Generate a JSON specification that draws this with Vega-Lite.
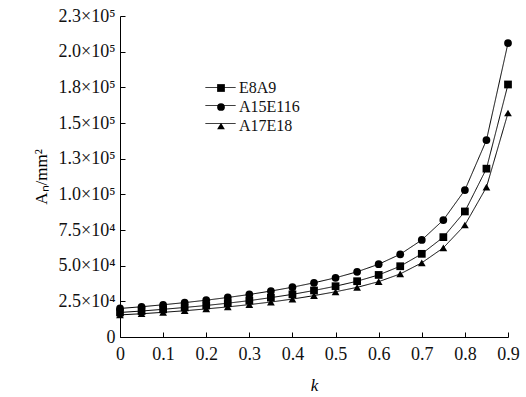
{
  "$schema": "https://vega.github.io/schema/vega-lite/v6.json",
  "width": 388,
  "height": 321,
  "autosize": "none",
  "padding": {"left": 120, "top": 16, "right": 18, "bottom": 60},
  "background": "white",
  "config": {
    "view": {"stroke": null},
    "font": "Liberation Serif",
    "axis": {"domainColor": "black", "tickColor": "black", "labelColor": "#111", "titleColor": "black", "grid": false, "labelFont": "Liberation Serif", "titleFont": "Liberation Serif", "labelFontSize": 18, "titleFontSize": 17, "titleFontWeight": "normal", "domainWidth": 1, "tickWidth": 1}
  },
  "data": {"values": [
    {"k": 0, "s": "E8A9", "A": 17200}, {"k": 0, "s": "A15E116", "A": 20000}, {"k": 0, "s": "A17E18", "A": 15500},
    {"k": 0.05, "s": "E8A9", "A": 18200}, {"k": 0.05, "s": "A15E116", "A": 21200}, {"k": 0.05, "s": "A17E18", "A": 16300},
    {"k": 0.1, "s": "E8A9", "A": 19400}, {"k": 0.1, "s": "A15E116", "A": 22600}, {"k": 0.1, "s": "A17E18", "A": 17300},
    {"k": 0.15, "s": "E8A9", "A": 20700}, {"k": 0.15, "s": "A15E116", "A": 24100}, {"k": 0.15, "s": "A17E18", "A": 18400},
    {"k": 0.2, "s": "E8A9", "A": 22100}, {"k": 0.2, "s": "A15E116", "A": 25800}, {"k": 0.2, "s": "A17E18", "A": 19700},
    {"k": 0.25, "s": "E8A9", "A": 23700}, {"k": 0.25, "s": "A15E116", "A": 27700}, {"k": 0.25, "s": "A17E18", "A": 21100},
    {"k": 0.3, "s": "E8A9", "A": 25500}, {"k": 0.3, "s": "A15E116", "A": 29800}, {"k": 0.3, "s": "A17E18", "A": 22700},
    {"k": 0.35, "s": "E8A9", "A": 27600}, {"k": 0.35, "s": "A15E116", "A": 32200}, {"k": 0.35, "s": "A17E18", "A": 24500},
    {"k": 0.4, "s": "E8A9", "A": 29900}, {"k": 0.4, "s": "A15E116", "A": 34900}, {"k": 0.4, "s": "A17E18", "A": 26600},
    {"k": 0.45, "s": "E8A9", "A": 32600}, {"k": 0.45, "s": "A15E116", "A": 38000}, {"k": 0.45, "s": "A17E18", "A": 29000},
    {"k": 0.5, "s": "E8A9", "A": 35600}, {"k": 0.5, "s": "A15E116", "A": 41500}, {"k": 0.5, "s": "A17E18", "A": 31700},
    {"k": 0.55, "s": "E8A9", "A": 39100}, {"k": 0.55, "s": "A15E116", "A": 45700}, {"k": 0.55, "s": "A17E18", "A": 34800},
    {"k": 0.6, "s": "E8A9", "A": 43500}, {"k": 0.6, "s": "A15E116", "A": 51000}, {"k": 0.6, "s": "A17E18", "A": 38800},
    {"k": 0.65, "s": "E8A9", "A": 49600}, {"k": 0.65, "s": "A15E116", "A": 58000}, {"k": 0.65, "s": "A17E18", "A": 44200},
    {"k": 0.7, "s": "E8A9", "A": 58300}, {"k": 0.7, "s": "A15E116", "A": 68000}, {"k": 0.7, "s": "A17E18", "A": 52000},
    {"k": 0.75, "s": "E8A9", "A": 70000}, {"k": 0.75, "s": "A15E116", "A": 82000}, {"k": 0.75, "s": "A17E18", "A": 62500},
    {"k": 0.8, "s": "E8A9", "A": 88000}, {"k": 0.8, "s": "A15E116", "A": 103000}, {"k": 0.8, "s": "A17E18", "A": 78500},
    {"k": 0.85, "s": "E8A9", "A": 118000}, {"k": 0.85, "s": "A15E116", "A": 138000}, {"k": 0.85, "s": "A17E18", "A": 105000},
    {"k": 0.9, "s": "E8A9", "A": 177000}, {"k": 0.9, "s": "A15E116", "A": 206000}, {"k": 0.9, "s": "A17E18", "A": 157000}
  ]},
  "encoding": {
    "x": {"field": "k", "type": "quantitative", "scale": {"domain": [0, 0.9], "nice": false, "zero": false},
      "axis": {"values": [0, 0.1, 0.2, 0.3, 0.4, 0.5, 0.6, 0.7, 0.8, 0.9], "format": ".1~f", "tickSize": -5, "labelPadding": 13, "title": "k", "titleFontStyle": "italic", "titlePadding": 14, "labelFlush": false}},
    "y": {"field": "A", "type": "quantitative", "scale": {"domain": [0, 225000], "nice": false},
      "axis": {"values": [0, 25000, 50000, 75000, 100000, 125000, 150000, 175000, 200000, 225000], "tickSize": -5, "labelPadding": 10, "labelFlush": false,
        "labelExpr": "datum.value == 0 ? '0' : (datum.value < 100000 ? format(datum.value / 10000, '.1f') + '×10⁴' : format(datum.value / 100000, '.1f') + '×10⁵')",
        "title": "Aₙ/mm²", "titlePadding": 8}}
  },
  "layer": [
    {"mark": {"type": "line", "color": "black", "strokeWidth": 1},
      "encoding": {"strokeDash": {"field": "s", "type": "nominal",
        "scale": {"range": [[1, 0], [1, 0], [1, 0]]},
        "legend": {"title": null, "orient": "none", "legendX": 85, "legendY": 56, "labelExpr": "''", "labelFontSize": 1, "symbolSize": 900, "symbolStrokeColor": "black", "symbolStrokeWidth": 1, "rowPadding": -10, "labelOffset": 0, "symbolType": "stroke"}}}},
    {"mark": {"type": "point", "filled": true, "color": "black", "opacity": 1, "size": 60},
      "encoding": {"shape": {"field": "s", "type": "nominal",
        "scale": {"domain": ["E8A9", "A15E116", "A17E18"], "range": ["square", "circle", "triangle-up"]},
        "legend": {"title": null, "orient": "none", "legendX": 93, "legendY": 64, "labelFontSize": 16, "labelFont": "Liberation Serif", "labelColor": "#111", "symbolSize": 60, "symbolFillColor": "black", "symbolStrokeColor": "black", "rowPadding": 3, "labelOffset": 10}}}}
  ]
}
